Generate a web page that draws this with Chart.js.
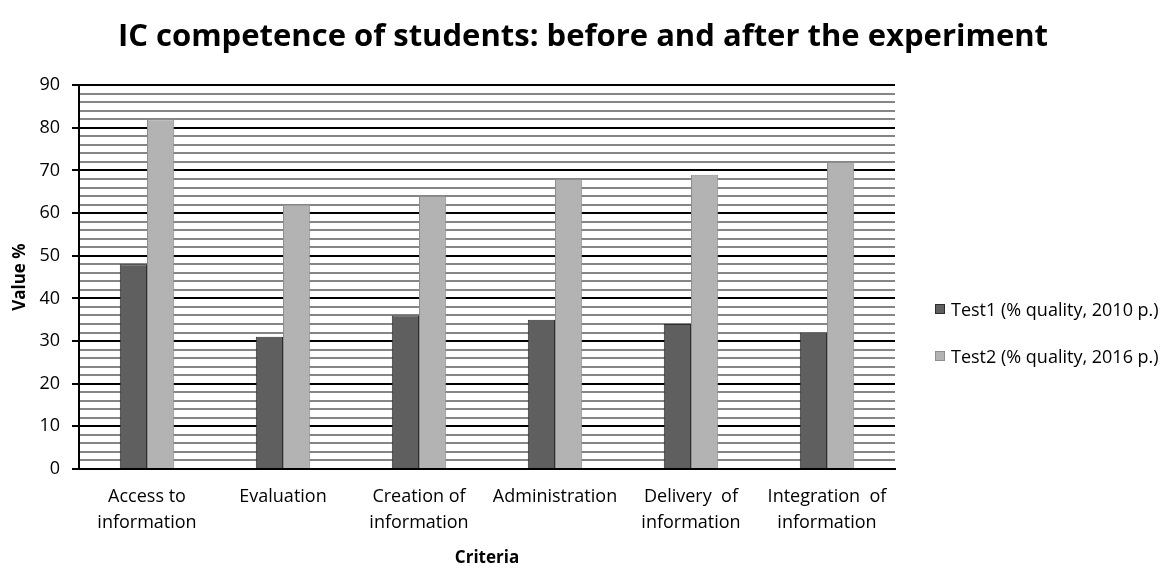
<!DOCTYPE html>
<html>
<head>
<meta charset="utf-8">
<script src="https://cdn.jsdelivr.net/npm/chart.js@4"></script>
<style>
  html, body { margin: 0; padding: 0; background: #fff; }
  #wrap { position: relative; width: 1166px; height: 568px; }
  #legend { position: absolute; left: 935px; top: 296px; font-family: "Open Sans", sans-serif; font-size: 18px; color: #000; }
  .item { display: flex; align-items: center; height: 26px; margin-bottom: 21px; white-space: nowrap; }
  .box { width: 8px; height: 8px; margin-right: 6px; border: 1px solid #222; }
</style>
</head>
<body>
<div id="wrap">
  <canvas id="my-IC-Chart" width="1166" height="568"></canvas>
  <div id="legend"></div>
</div>
<script>
// data
const criteria = [
    ['Access to', 'information'],
    ['Evaluation'],
    ['Creation of', 'information'],
    ['Administration'],
    ['Delivery  of', 'information'],
    ['Integration  of', 'information']
];
const test1 = [48, 31, 36, 35, 34, 32];
const test2 = [82, 62, 64, 68, 69, 72];
const seriesNames = ['Test1 (% quality, 2010 p.)', 'Test2 (% quality, 2016 p.)'];
const yMax = 90;
const yStep = 2;

const fills = ['#5f5f5f', '#b3b3b3'];
const edges = ['#2e2e2e', '#8e8e8e'];

// legend kept as html text so it can sit where the original has it
const legend = document.getElementById('legend');
seriesNames.forEach((name, i) => {
    const row = document.createElement('div');
    row.className = 'item';
    row.innerHTML = '<span class="box" style="background:' + fills[i] + ';border-color:' + edges[i] + '"></span>' + name;
    legend.appendChild(row);
});

const ctx = document.getElementById('my-IC-Chart').getContext('2d');
new Chart(ctx, {
    type: 'bar',
    data: {
        labels: criteria,
        datasets: [
            { label: seriesNames[0], data: test1, backgroundColor: fills[0], borderColor: edges[0], borderWidth: 1 },
            { label: seriesNames[1], data: test2, backgroundColor: fills[1], borderColor: edges[1], borderWidth: 1 }
        ]
    },
    options: {
        responsive: false,
        animation: false,
        categoryPercentage: 0.4,
        barPercentage: 1.0,
        layout: { padding: 0 },
        plugins: {
            legend: { display: false },
            tooltip: { enabled: false },
            title: {
                display: true,
                text: 'IC competence of students: before and after the experiment',
                color: '#000',
                font: { family: 'Open Sans', size: 31, weight: 'bold' },
                padding: { top: 19, bottom: 29 }
            }
        },
        scales: {
            x: {
                grid: { display: false, drawTicks: false },
                border: { display: true, color: '#000', width: 2 },
                ticks: {
                    color: '#000',
                    padding: 15,
                    maxRotation: 0,
                    autoSkip: false,
                    font: { family: 'Open Sans', size: 18, lineHeight: 1.45 }
                },
                title: {
                    display: true,
                    text: 'Criteria',
                    color: '#000',
                    font: { family: 'Open Sans', size: 17, weight: 'bold' },
                    padding: { top: 4, bottom: 0 }
                },
                afterFit: function (scale) { scale.height = 99; }
            },
            y: {
                min: 0,
                max: yMax,
                border: { display: true, color: '#000', width: 2 },
                grid: {
                    color: c => (c.tick.value % 10 === 0 ? '#000' : '#858585'),
                    lineWidth: 2,
                    tickLength: 7,
                    tickColor: c => (c.tick.value % 10 === 0 ? '#000' : 'rgba(0,0,0,0)')
                },
                ticks: {
                    stepSize: yStep,
                    maxTicksLimit: 100,
                    autoSkip: false,
                    color: '#000',
                    padding: 12,
                    font: { family: 'Open Sans', size: 18 },
                    callback: v => (v % 10 === 0 ? v : '')
                },
                title: {
                    display: true,
                    text: 'Value %',
                    color: '#000',
                    font: { family: 'Open Sans', size: 17, weight: 'bold' },
                    padding: { top: 10, bottom: 4 }
                },
                afterFit: function (scale) { scale.width = 79; }
            },
            // empty right-hand axis that only reserves the legend column,
            // so the title still centres on the whole canvas
            side: {
                type: 'linear',
                position: 'right',
                display: true,
                grid: { display: false, drawTicks: false },
                border: { display: false },
                ticks: { display: false },
                afterFit: function (scale) { scale.width = 271; }
            }
        }
    }
});
</script>
</body>
</html>
